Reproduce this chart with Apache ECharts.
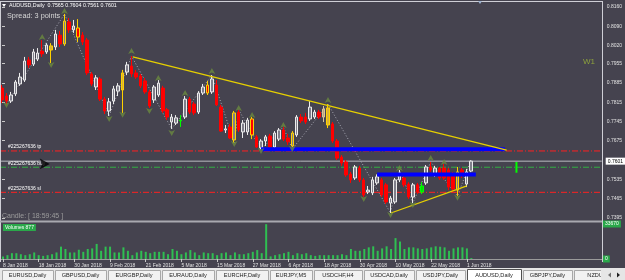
<!DOCTYPE html>
<html>
<head>
<meta charset="utf-8">
<script src="https://cdn.jsdelivr.net/npm/echarts@6.0.0/dist/echarts.min.js"></script>
<style>
html,body{margin:0;padding:0;background:#45434f;overflow:hidden;}
#chart{width:625px;height:280px;}
</style>
</head>
<body>
<div id="chart"></div>
<script>
// ---------------- data ----------------
const symbolName = 'AUDUSD,Daily';
const ohlcHeader = ['0.7565', '0.7604', '0.7561', '0.7601'];
const spreadText = 'Spread: 3 points';
const candleTimer = 'Candle: [ 18:59:45 ]';

const openP = [0.7866,0.7837,0.7819,0.7845,0.7881,0.7895,0.7968,0.7953,0.7971,0.8000,
 0.7997,0.8019,0.8015,0.8058,0.8026,0.8106,0.8077,0.8084,0.8058,0.8040,
 0.7917,0.7870,0.7899,0.7826,0.7783,0.7819,0.7855,0.7859,0.7924,0.7946,
 0.7921,0.7910,0.7892,0.7852,0.7823,0.7841,0.7866,0.7787,0.7743,0.7739,
 0.7747,0.7761,0.7826,0.7808,0.7779,0.7848,0.7877,0.7852,0.7877,0.7797,
 0.7714,0.7725,0.7678,0.7779,0.7707,0.7707,0.7754,0.7689,0.7649,0.7674,
 0.7692,0.7652,0.7681,0.7714,0.7685,0.7656,0.7696,0.7761,0.7761,0.7754,
 0.7761,0.7779,0.7761,0.7794,0.7736,0.7674,0.7616,0.7598,0.7554,0.7540,
 0.7576,0.7533,0.7489,0.7486,0.7522,0.7533,0.7515,0.7449,0.7453,0.7533,
 0.7540,0.7518,0.7471,0.7515,0.7489,0.7522,0.7580,0.7551,0.7576,0.7576,
 0.7569,0.7551,0.7496,0.7569,0.7518,0.7565];
const closeP = [0.7823,0.7819,0.7841,0.7888,0.7906,0.7964,0.7950,0.7997,0.7993,0.7990,
 0.8022,0.8004,0.8062,0.8026,0.8109,0.8077,0.8091,0.8051,0.8033,0.7921,
 0.7881,0.7903,0.7826,0.7783,0.7816,0.7863,0.7874,0.7921,0.7950,0.7917,
 0.7906,0.7874,0.7852,0.7801,0.7870,0.7884,0.7783,0.7761,0.7761,0.7758,
 0.7750,0.7826,0.7779,0.7776,0.7848,0.7870,0.7848,0.7899,0.7805,0.7710,
 0.7718,0.7685,0.7776,0.7714,0.7739,0.7750,0.7696,0.7652,0.7674,0.7689,
 0.7652,0.7703,0.7714,0.7681,0.7671,0.7703,0.7761,0.7747,0.7743,0.7797,
 0.7779,0.7761,0.7790,0.7732,0.7674,0.7612,0.7594,0.7551,0.7533,0.7580,
 0.7533,0.7478,0.7496,0.7533,0.7544,0.7478,0.7453,0.7467,0.7533,0.7558,
 0.7515,0.7471,0.7515,0.7489,0.7511,0.7580,0.7569,0.7576,0.7540,0.7540,
 0.7507,0.7500,0.7562,0.7551,0.7562,0.7601];
const lowP = [0.7812,0.7808,0.7812,0.7837,0.7874,0.7888,0.7939,0.7946,0.7964,0.7979,
 0.7990,0.7957,0.8004,0.8015,0.8019,0.8066,0.8066,0.8033,0.8022,0.7913,
 0.7874,0.7859,0.7819,0.7772,0.7765,0.7808,0.7837,0.7776,0.7913,0.7906,
 0.7899,0.7866,0.7845,0.7794,0.7812,0.7834,0.7776,0.7750,0.7718,0.7732,
 0.7725,0.7754,0.7772,0.7768,0.7772,0.7841,0.7841,0.7845,0.7801,0.7707,
 0.7703,0.7681,0.7667,0.7707,0.7685,0.7696,0.7681,0.7649,0.7644,0.7656,
 0.7649,0.7645,0.7674,0.7674,0.7660,0.7645,0.7689,0.7739,0.7736,0.7747,
 0.7754,0.7754,0.7743,0.7721,0.7667,0.7605,0.7584,0.7544,0.7522,0.7533,
 0.7525,0.7471,0.7482,0.7478,0.7515,0.7471,0.7446,0.7413,0.7446,0.7525,
 0.7507,0.7464,0.7449,0.7482,0.7482,0.7515,0.7562,0.7544,0.7533,0.7533,
 0.7496,0.7489,0.7475,0.7540,0.7507,0.7561];
const highP = [0.7877,0.7848,0.7852,0.7895,0.7921,0.7979,0.7979,0.8008,0.8011,0.8040,
 0.8029,0.8029,0.8077,0.8073,0.8135,0.8120,0.8113,0.8116,0.8069,0.8048,
 0.7924,0.7913,0.7906,0.7834,0.7830,0.7874,0.7884,0.7932,0.7961,0.7982,
 0.7932,0.7917,0.7903,0.7859,0.7877,0.7895,0.7874,0.7794,0.7772,0.7768,
 0.7768,0.7837,0.7834,0.7816,0.7855,0.7881,0.7892,0.7913,0.7895,0.7805,
 0.7732,0.7736,0.7783,0.7787,0.7750,0.7758,0.7761,0.7696,0.7681,0.7696,
 0.7700,0.7710,0.7721,0.7725,0.7700,0.7710,0.7768,0.7772,0.7776,0.7819,
 0.7787,0.7787,0.7801,0.7808,0.7743,0.7681,0.7623,0.7605,0.7562,0.7587,
 0.7584,0.7540,0.7511,0.7544,0.7553,0.7540,0.7522,0.7475,0.7540,0.7569,
 0.7547,0.7525,0.7522,0.7522,0.7525,0.7587,0.7598,0.7584,0.7580,0.7591,
 0.7576,0.7562,0.7580,0.7576,0.7573,0.7604];
const volumes = [2500,3700,5600,5600,4600,3700,4600,6300,3700,3000,
 3700,4600,6300,11900,9600,6300,6300,8900,6900,9600,
 10200,14500,7900,11900,11900,6300,6300,11200,7900,3700,
 6300,7900,6900,5600,6900,6900,6900,4600,9600,7900,
 4600,6300,8600,6300,3700,6300,5600,5600,3700,5600,
 6300,3700,6300,4600,4600,5600,6900,8600,5600,33500,
 2500,3700,4600,5600,6900,3700,5600,4600,5600,3700,
 3000,3700,3700,3700,3700,3700,4600,3700,9600,7900,
 7900,9600,11200,12200,7900,10200,12200,9600,20100,16800,
 9600,11200,11200,10200,9600,10200,11200,12200,11800,11200,
 7900,10200,11200,11200,10200,877];

const priceTicks = [0.8160,0.8090,0.8020,0.7955,0.7885,0.7815,0.7745,0.7675,0.7535,0.7465,0.7395];
const dateTickIdx = [0,8,16,24,32,40,48,56,64,72,80,88,96,104];
const dateLabels = ['8 Jan 2018','18 Jan 2018','30 Jan 2018','9 Feb 2018','21 Feb 2018','5 Mar 2018',
  '15 Mar 2018','27 Mar 2018','6 Apr 2018','18 Apr 2018','30 Apr 2018','10 May 2018','22 May 2018','1 Jun 2018'];
const volTicks = [0, 33670];
const volumeLabel = 'Volumes 877';

// zigzag swing points (bar index, price)
const zigIdx = [1,14,24,29,38,47,52,53,58,63,65,73,87,89,92,96,102,105];
const zigPrice = [0.7808,0.8135,0.7765,0.7982,0.7718,0.7913,0.7667,0.7787,0.7644,0.7725,0.7645,0.7808,0.7413,0.7569,0.7449,0.7598,0.7475,0.7604];
// fractals
const fracUpIdx = [9,14,29,35,41,47,53,56,63,73,89,96,99];
const fracUpPrice = [0.8062,0.8156,0.8011,0.7913,0.7859,0.7939,0.7805,0.7779,0.7743,0.7834,0.7587,0.7623,0.7609];
const fracDnIdx = [1,11,24,27,33,38,52,58,65,81,87,92,102];
const fracDnPrice = [0.7794,0.7939,0.7743,0.7758,0.7772,0.7692,0.7652,0.7627,0.7634,0.7453,0.7395,0.7431,0.7457];
// trendlines [index, price]
const trendDown = [[29.3, 0.7979], [113.0, 0.7641]];
const trendUp = [[87.1, 0.7413], [104.1, 0.7511]];
// horizontal levels
const blueLevel1 = [[58, 0.7644], [112.6, 0.7644]];
const blueLevel2 = [[84, 0.7553], [106.1, 0.7553]];
const tpLevel = 0.7638, buyLevel = 0.7579, slLevel = 0.7488, bidLevel = 0.7601;
const orderId = '#225267636';
const buyArrow = [[10.7, 0.7591]];
const nextBarMark = [[115.2, 0.7598], [115.2, 0.7559]];

const tabNames = ['EURUSD,Daily','GBPUSD,Daily','EURGBP,Daily','EURAUD,Daily','EURCHF,Daily','EURJPY,M5',
  'USDCHF,H4','USDCAD,Daily','USDJPY,Daily','AUDUSD,Daily','GBPJPY,Daily','NZDUSD,Daily'];
const activeTab = 9;

// ---------------- styling ----------------
const FONT = 'Liberation Sans';
const YEL = '#ffd200';
const candleStyle = {
  11: {color: '#d9b23a', color0: '#d9b23a', borderColor: YEL, borderColor0: YEL},
  27: {color: '#d9b23a', color0: '#d9b23a', borderColor: YEL, borderColor0: YEL},
  73: {color: '#d9b23a', color0: '#d9b23a', borderColor: YEL, borderColor0: YEL},
  14: {borderColor: YEL, borderColor0: YEL},
  17: {borderColor: YEL, borderColor0: YEL},
  46: {borderColor: YEL, borderColor0: YEL},
  52: {borderColor: YEL, borderColor0: YEL},
  56: {borderColor: YEL, borderColor0: YEL},
  65: {borderColor: YEL, borderColor0: YEL},
  102: {borderColor: YEL, borderColor0: YEL},
  72: {color: '#b9a57e', color0: '#b9a57e', borderColor: '#d8c49a', borderColor0: '#d8c49a'},
  40: {color: '#00e000', color0: '#00e000', borderColor: '#00ff00', borderColor0: '#00ff00'},
  94: {color: '#00e000', color0: '#00e000', borderColor: '#00ff00', borderColor0: '#00ff00'}
};

const XMIN = -0.448, XMAX = 134.29;
const candles = openP.map((o, i) => {
  const it = {value: [i, o, closeP[i], lowP[i], highP[i]]};
  if (candleStyle[i]) it.itemStyle = candleStyle[i];
  return it;
});
const volData = volumes.map((v, i) => [i, v]);
const zigData = zigIdx.map((x, i) => [x, zigPrice[i]]);
const fracUp = fracUpIdx.map((x, i) => [x, fracUpPrice[i]]);
const fracDn = fracDnIdx.map((x, i) => [x, fracDnPrice[i]]);

// order level: full-width dash-dot line plus its label at the left
function orderSeries(v, color, name) {
  return {
    type: 'line', xAxisIndex: 0, yAxisIndex: 0, silent: true, z: 3,
    data: [[XMIN, v], [XMAX, v]], symbol: 'none',
    lineStyle: {color: color, width: 1, type: [6, 2, 1, 2]},
    markPoint: {silent: true, symbol: 'circle', symbolSize: 0, animation: false,
      data: [{coord: [XMIN, v], label: {show: true, position: 'right', offset: [3, -4],
        formatter: orderId + ' ' + name, color: '#ffffff', fontSize: 5, fontFamily: FONT}}]}
  };
}

// ---------------- graphics (frame, texts, tabs) ----------------
const g = [];
function L(x1, y1, x2, y2, c, w) {
  g.push({type: 'line', silent: true, z: 100, shape: {x1, y1, x2, y2}, style: {stroke: c, lineWidth: w}});
}
L(0, 1.5, 602, 1.5, '#cfcfd6', 1);
L(0.5, 1, 0.5, 262, '#cfcfd6', 1);
L(602.5, 1, 602.5, 262, '#cfcfd6', 1);
L(0, 221.5, 602, 221.5, '#a9a9b0', 2);

g.push({type: 'polygon', silent: true, z: 100, shape: {points: [[2, 4], [6, 4], [4, 7]]}, style: {fill: '#ffffff'}});
g.push({type: 'polygon', silent: true, z: 100, shape: {points: [[478, 1], [482, 1], [480, 4]]}, style: {fill: '#9fb4d0'}});
g.push({type: 'text', silent: true, z: 100, x: 9, y: 6,
  style: {text: symbolName + '  ' + ohlcHeader.join(' '), fill: '#ffffff', font: '5.3px ' + FONT, verticalAlign: 'middle'}});
g.push({type: 'text', silent: true, z: 100, x: 7, y: 15.5,
  style: {text: spreadText, fill: '#d6d6d6', font: '7.3px ' + FONT, verticalAlign: 'middle'}});
g.push({type: 'text', silent: true, z: 100, x: 2, y: 216,
  style: {text: candleTimer, fill: '#9c9c9c', font: '7px ' + FONT, verticalAlign: 'middle'}});
g.push({type: 'text', silent: true, z: 100, x: 583, y: 62,
  style: {text: 'W1', fill: '#8da23c', font: '8px ' + FONT, verticalAlign: 'middle'}});
g.push({type: 'text', silent: true, z: 100, x: 3, y: 224,
  style: {text: volumeLabel, fill: '#ffffff', font: '5px ' + FONT, verticalAlign: 'top',
    backgroundColor: '#2aa84a', padding: [1, 2, 1, 2]}});

// tab bar
const tabBounds = [2, 55, 108, 162, 216, 270, 314, 364, 416, 467, 523, 574, 640];
g.push({type: 'rect', silent: true, z: 90, shape: {x: 0, y: 268, width: 625, height: 12}, style: {fill: '#e6e6e6'}});
tabNames.forEach((n, i) => {
  const x0 = tabBounds[i], x1 = tabBounds[i + 1];
  const act = i === activeTab;
  g.push({type: 'rect', silent: true, z: 91, shape: {x: x0 + 0.5, y: act ? 269.5 : 270.5, width: x1 - x0 - 2, height: 11},
    style: {fill: act ? '#ffffff' : '#f2f2f2', stroke: act ? '#505050' : '#a8a8a8', lineWidth: 1}});
  g.push({type: 'text', silent: true, z: 92, x: (x0 + x1) / 2 - 1, y: 275.5,
    style: {text: n, fill: '#222222', font: '5.6px ' + FONT, align: 'center', verticalAlign: 'middle'}});
});
g.push({type: 'rect', silent: true, z: 95, shape: {x: 601, y: 268, width: 24, height: 12}, style: {fill: '#e6e6e6'}});
g.push({type: 'polygon', silent: true, z: 96, shape: {points: [[608, 275], [611, 272.5], [611, 277.5]]}, style: {fill: '#707070'}});
g.push({type: 'polygon', silent: true, z: 96, shape: {points: [[620, 275], [617, 272.5], [617, 277.5]]}, style: {fill: '#202020'}});

// ---------------- chart ----------------
const chart = echarts.init(document.getElementById('chart'));
const option = {
  backgroundColor: '#45434f',
  animation: false,
  grid: [
    {left: 0, top: 3, width: 602, height: 218},
    {left: 0, top: 224, width: 602, height: 35}
  ],
  xAxis: [
    {type: 'value', gridIndex: 0, min: XMIN, max: XMAX, show: false},
    {type: 'value', gridIndex: 1, min: XMIN, max: XMAX, splitLine: {show: false},
      axisLine: {show: true, onZero: false, lineStyle: {color: '#9a9a9a'}},
      axisTick: {show: true, customValues: dateTickIdx, length: 3, lineStyle: {color: '#c8c8c8'}},
      axisLabel: {customValues: dateTickIdx, formatter: v => dateLabels[dateTickIdx.indexOf(Math.round(v))],
        align: 'left', color: '#e2e2e2', fontSize: 5, fontFamily: FONT, margin: 4}}
  ],
  yAxis: [
    {type: 'value', gridIndex: 0, position: 'right', min: 0.7384, max: 0.81745,
      splitLine: {show: false}, axisLine: {show: false},
      axisTick: {show: true, customValues: priceTicks, length: 3, lineStyle: {color: '#c8c8c8'}},
      axisLabel: {customValues: priceTicks, formatter: v => v.toFixed(4), color: '#e2e2e2',
        fontSize: 5, fontFamily: FONT, margin: 5}},
    {type: 'value', gridIndex: 1, position: 'right', min: 0, max: 33670,
      splitLine: {show: false}, axisLine: {show: false}, axisTick: {show: false},
      axisLabel: {customValues: volTicks, formatter: v => String(Math.round(v)), color: '#ffffff',
        backgroundColor: '#2aa84a', padding: [1, 2, 1, 2], fontSize: 5, fontFamily: FONT, margin: 1}}
  ],
  series: [
    {type: 'line', xAxisIndex: 0, yAxisIndex: 0, data: zigData, symbol: 'none', silent: true, z: 2,
      lineStyle: {color: '#a9a9b4', width: 1, type: [1, 2]}},
    orderSeries(tpLevel, '#ff2020', 'tp'),
    orderSeries(buyLevel, '#33b043', 'buy'),
    orderSeries(slLevel, '#ff2020', 'sl'),
    {type: 'line', xAxisIndex: 0, yAxisIndex: 0, silent: true, z: 3,
      data: [[XMIN, bidLevel], [XMAX, bidLevel]], symbol: 'none',
      lineStyle: {color: '#b9b9c0', width: 1},
      markPoint: {silent: true, symbol: 'circle', symbolSize: 0, animation: false,
        data: [{coord: [XMAX, bidLevel], label: {show: true, position: 'right', offset: [-1, 0],
          formatter: bidLevel.toFixed(4), color: '#000000', backgroundColor: '#ffffff',
          padding: [1, 2, 1, 2], fontSize: 5, fontFamily: FONT}}]}},
    {type: 'candlestick', xAxisIndex: 0, yAxisIndex: 0, data: candles, barWidth: 3, silent: true, z: 5,
      itemStyle: {color: '#7f7e8a', color0: '#ff0000', borderColor: '#ececec', borderColor0: '#ff0000', borderWidth: 1}},
    {type: 'line', xAxisIndex: 0, yAxisIndex: 0, data: blueLevel1, symbol: 'none', silent: true, z: 6,
      lineStyle: {color: '#0000ff', width: 4}},
    {type: 'line', xAxisIndex: 0, yAxisIndex: 0, data: blueLevel2, symbol: 'none', silent: true, z: 6,
      lineStyle: {color: '#0000ff', width: 4}},
    {type: 'line', xAxisIndex: 0, yAxisIndex: 0, data: trendDown, symbol: 'none', silent: true, z: 7,
      lineStyle: {color: '#e6d000', width: 1.3}},
    {type: 'line', xAxisIndex: 0, yAxisIndex: 0, data: trendUp, symbol: 'none', silent: true, z: 7,
      lineStyle: {color: '#e6d000', width: 1.3}},
    {type: 'line', xAxisIndex: 0, yAxisIndex: 0, data: nextBarMark, symbol: 'none', silent: true, z: 7,
      lineStyle: {color: '#00ff00', width: 2}},
    {type: 'scatter', xAxisIndex: 0, yAxisIndex: 0, data: fracUp, symbol: 'arrow', symbolSize: [5, 6],
      silent: true, z: 8, itemStyle: {color: '#6a8a3e'}},
    {type: 'scatter', xAxisIndex: 0, yAxisIndex: 0, data: fracDn, symbol: 'arrow', symbolSize: [5, 6],
      symbolRotate: 180, silent: true, z: 8, itemStyle: {color: '#6a8a3e'}},
    {type: 'scatter', xAxisIndex: 0, yAxisIndex: 0, data: buyArrow, symbol: 'arrow', symbolSize: [8, 10],
      symbolRotate: -90, silent: true, z: 8, itemStyle: {color: '#000000'}},
    {type: 'bar', xAxisIndex: 1, yAxisIndex: 1, data: volData, barWidth: 2, silent: true,
      itemStyle: {color: '#2fbf52'}}
  ],
  graphic: g
};
chart.setOption(option);
</script>
</body>
</html>
